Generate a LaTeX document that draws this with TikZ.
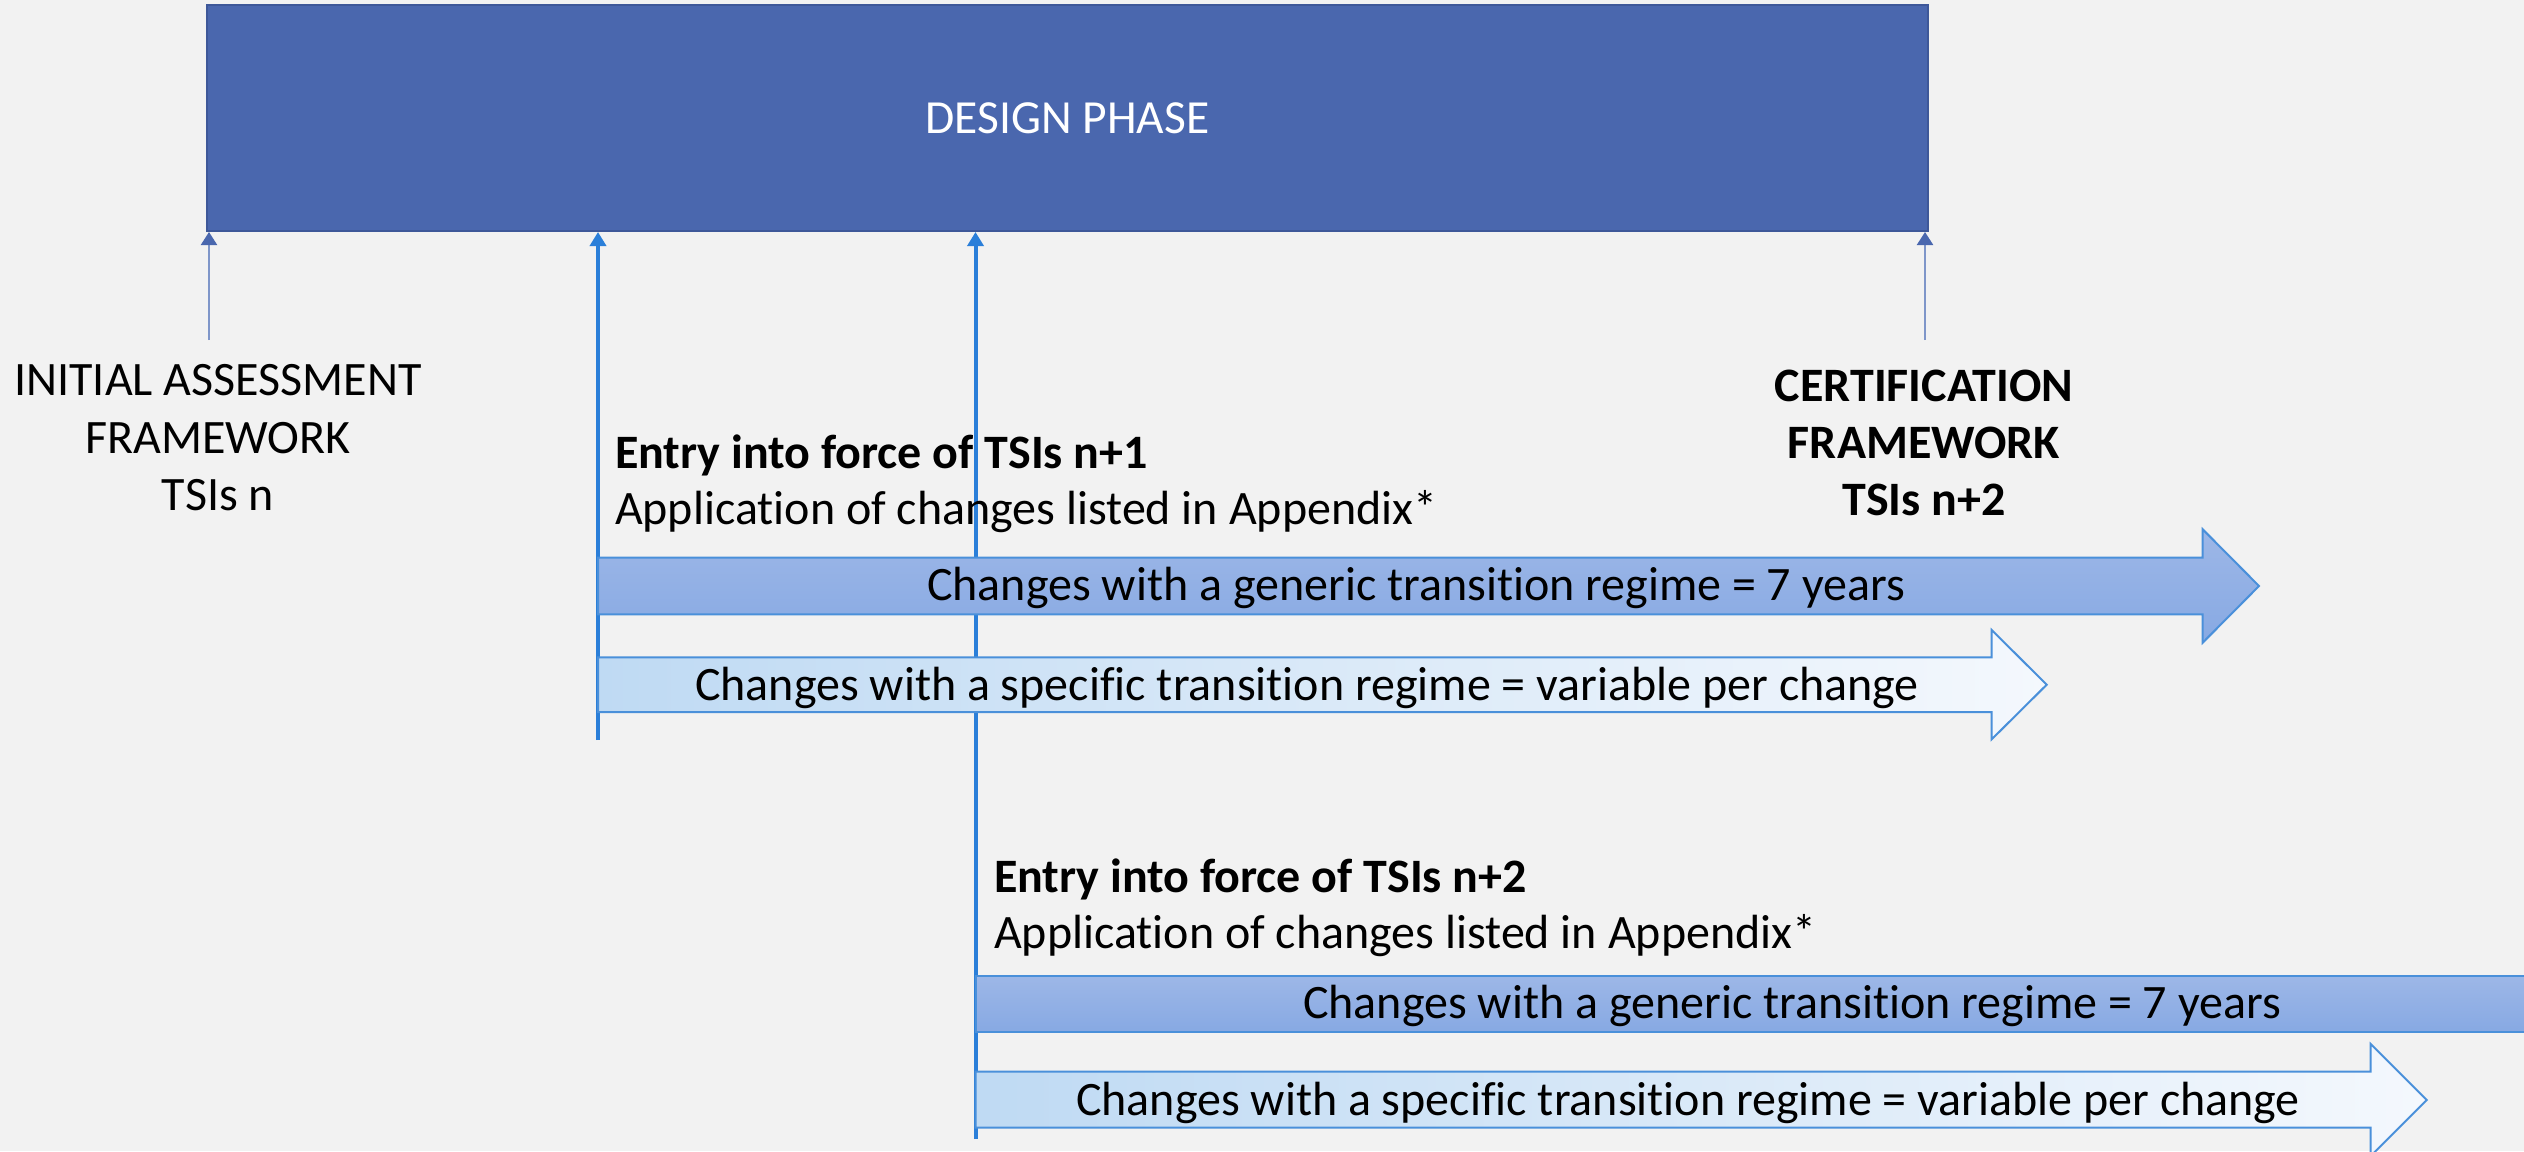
\documentclass[tikz,border=0pt]{standalone}
\usepackage{fontspec}
\setmainfont{Carlito}[Ligatures=NoCommon]
\usetikzlibrary{arrows.meta}
\definecolor{bg}{HTML}{F2F2F2}
\definecolor{boxfill}{HTML}{4A67AE}
\definecolor{boxedge}{HTML}{3E5899}
\definecolor{thinline}{HTML}{7F96C9}
\definecolor{thintip}{HTML}{4A67AE}
\definecolor{thickline}{HTML}{2B7FD9}
\definecolor{barstroke}{HTML}{4A90DA}
\definecolor{gtop}{HTML}{9DB7E7}
\definecolor{gbot}{HTML}{87A9E3}
\definecolor{sleft}{HTML}{BFDAF3}
\definecolor{smid}{HTML}{9CC3EA}
\definecolor{sright}{HTML}{F4F8FD}
\begin{document}
\begin{tikzpicture}[x=1pt,y=-1pt,
  txt/.style={inner sep=0pt, outer sep=0pt, font=\fontsize{48}{57.5}\selectfont},
  thinarrow/.style={draw=thinline, line width=2.2pt, -{Triangle[width=16pt,length=13pt,color=thintip]}},
  thickarrow/.style={draw=thickline, line width=4pt, -{Triangle[width=16pt,length=14pt]}},
  genericbar/.style={draw=barstroke, line width=2pt, top color=gtop, bottom color=gbot},
  specificbar/.style={draw=barstroke, line width=2pt, left color=sleft, middle color=smid, right color=sright}
]
\fill[bg] (0,0) rectangle (2524,1151);
\useasboundingbox (0,0) rectangle (2524,1151);

% design phase box
\node[draw=boxedge, fill=boxfill, line width=2pt, minimum width=1721pt, minimum height=226pt,
      inner sep=0pt, anchor=north west, text=white, font=\fontsize{47.5}{56}\selectfont]
      (design) at (206,4) {DESIGN PHASE};

% thin arrows
\coordinate (ia) at (209,340);
\coordinate (cf) at (1925,340);
\draw[thinarrow] (ia) -- (ia |- design.south);
\draw[thinarrow] (cf) -- (cf |- design.south);

% thick lines
\coordinate (e1) at (598,740);
\coordinate (e2) at (975.5,1139);
\draw[thickarrow] (e1) -- (e1 |- design.south);
\draw[thickarrow] (e2) -- (e2 |- design.south);

% labels (anchor = baseline of the last line)
\node[txt, align=center, anchor=base] (initial) at (218,510.7)
  {INITIAL ASSESSMENT\\FRAMEWORK\\TSIs n};
\node[txt, align=center, anchor=base, font=\fontsize{48}{56.7}\selectfont\bfseries] (cert) at (1924,515)
  {CERTIFICATION\\FRAMEWORK\\TSIs n+2};

\node[txt, align=left, anchor=base west, font=\fontsize{48}{56}\selectfont] (entry1) at (615,524.5)
  {\textbf{Entry into force of TSIs n+1}\\Application of changes listed in Appendix*};
\node[txt, align=left, anchor=base west, font=\fontsize{48}{56}\selectfont] (entry2) at (994,948.5)
  {\textbf{Entry into force of TSIs n+2}\\Application of changes listed in Appendix*};

% bars, group 1
\path[genericbar] (598,557.7) -- (2202.7,557.7) -- (2202.7,529.3) -- (2259,586)
   -- (2202.7,642.7) -- (2202.7,614.3) -- (598,614.3) -- cycle;
\node[txt, anchor=base] (gen1) at (1416,600.6) {Changes with a generic transition regime = 7 years};

\path[specificbar] (598,657.3) -- (1991.7,657.3) -- (1991.7,630) -- (2046.7,684.7)
   -- (1991.7,739.3) -- (1991.7,712) -- (598,712) -- cycle;
\node[txt, anchor=base] (spec1) at (1307,700) {Changes with a specific transition regime = variable per change};

% bars, group 2
\path[genericbar] (975.5,975.7) rectangle (2540,1031.7);
\node[txt, anchor=base] (gen2) at (1792,1018.3) {Changes with a generic transition regime = 7 years};

\path[specificbar] (975.5,1071.7) -- (2370.7,1071.7) -- (2370.7,1044) -- (2426.7,1100)
   -- (2370.7,1156) -- (2370.7,1127.7) -- (975.5,1127.7) -- cycle;
\node[txt, anchor=base] (spec2) at (1688,1115) {Changes with a specific transition regime = variable per change};
\end{tikzpicture}
\end{document}
